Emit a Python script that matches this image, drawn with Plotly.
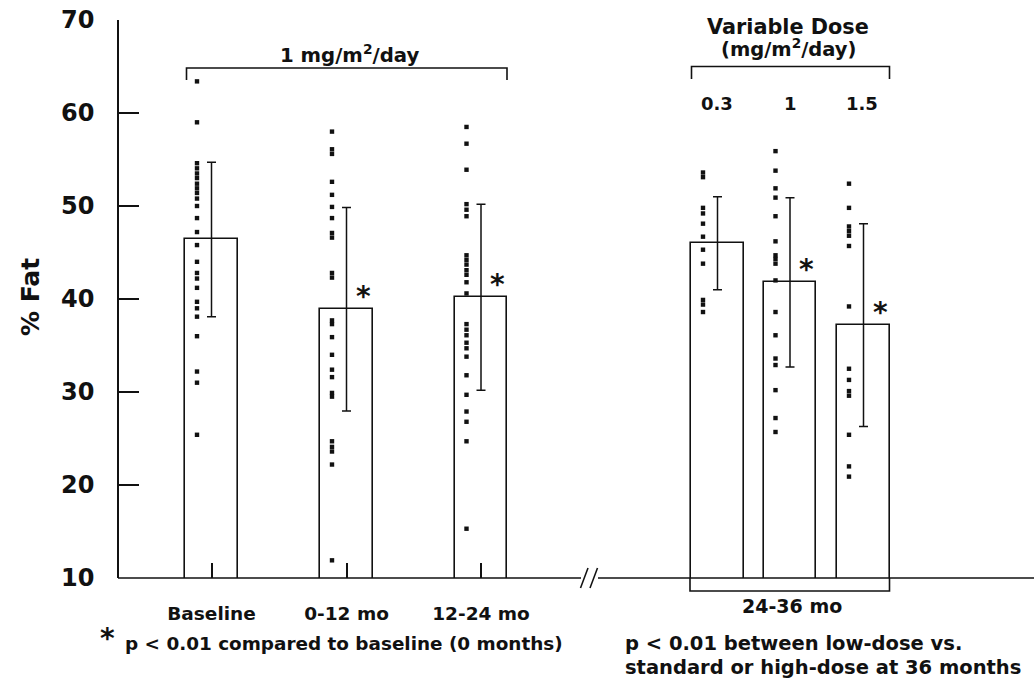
import plotly.graph_objects as go

# ---------------- data ----------------
categories = ["Baseline", "0-12 mo", "12-24 mo", "0.3", "1", "1.5"]
means = [46.4, 38.9, 40.2, 46.0, 41.8, 37.2]
sds = [8.3, 10.95, 10.0, 5.0, 9.1, 10.9]
significant = [False, True, True, False, True, True]

dots_baseline = [63.4, 59.0, 54.6, 54.05, 53.5, 53.0, 52.4, 51.9, 51.4, 50.8, 50.0,
                 48.7, 47.2, 45.8, 44.0, 42.8, 42.2, 41.2, 39.7, 39.0, 38.1, 36.0,
                 32.2, 31.0, 25.4]
dots_0_12 = [58.0, 56.1, 55.6, 52.6, 51.2, 49.9, 48.7, 47.1, 46.6, 42.8, 42.3, 37.7,
             37.3, 35.9, 34.0, 32.4, 31.6, 29.9, 29.5, 24.7, 24.1, 23.6, 22.2, 11.9]
dots_12_24 = [58.5, 56.7, 53.9, 50.2, 49.6, 48.9, 44.7, 44.2, 43.7, 43.1, 42.6, 41.8,
              40.6, 37.3, 36.7, 36.1, 35.3, 34.7, 33.8, 31.8, 29.7, 27.9, 26.8, 24.7, 15.3]
dots_dose_03 = [53.6, 53.1, 49.8, 49.2, 48.1, 46.7, 45.3, 43.8, 39.9, 39.4, 38.6]
dots_dose_1 = [55.9, 53.8, 51.9, 50.9, 48.9, 46.2, 44.7, 44.3, 43.8, 42.0, 38.6, 36.1,
               33.6, 32.9, 30.2, 27.2, 25.7]
dots_dose_15 = [52.4, 49.8, 47.8, 47.3, 46.8, 45.7, 39.2, 32.5, 31.3, 30.1, 29.6, 25.4,
                22.0, 20.9]
all_dots = [dots_baseline, dots_0_12, dots_12_24, dots_dose_03, dots_dose_1, dots_dose_15]

y_ticks = [10, 20, 30, 40, 50, 60, 70]

# ---------------- layout geometry ----------------
W, H = 1034, 685
PL, PR, PT, PB_MARGIN = 119, 0, 20, 107
X_RANGE = [119, 1034]        # x units follow page pixels
x_pos = [211.5, 346.5, 481, 717.5, 790, 863.5]   # category slot positions
BAR_W = 52.5
DOT_OFFSET = -14.5
STAR_OFFSET = 16.5

def xp(px):
    return (px - X_RANGE[0]) / (X_RANGE[1] - X_RANGE[0])

def yp(py):
    return (578 - py) / 558

BLACK = "#111111"
FONT = "DejaVu Sans, Verdana, sans-serif"

fig = go.Figure()

fig.add_trace(go.Bar(
    x=x_pos, y=means, width=BAR_W,
    marker=dict(color="white", line=dict(color=BLACK, width=1.6)),
    error_y=dict(type="data", array=sds, visible=True, color=BLACK,
                 thickness=1.5, width=4.5),
    hoverinfo="skip", showlegend=False,
))

for cx, vals in zip(x_pos, all_dots):
    fig.add_trace(go.Scatter(
        x=[cx + DOT_OFFSET] * len(vals), y=vals, mode="markers",
        marker=dict(symbol="square", size=4.4, color=BLACK),
        hoverinfo="skip", showlegend=False,
    ))

annotations = []
for cx, m, s in zip(x_pos, means, significant):
    if s:
        annotations.append(dict(x=cx + STAR_OFFSET, y=m, xref="x", yref="y",
                                text="*", showarrow=False, yanchor="middle",
                                yshift=13,
                                font=dict(size=28, family=FONT, color=BLACK, weight="bold")))

def txt(text, x, y, size, xanchor="center", yanchor="middle", **kw):
    annotations.append(dict(x=xp(x), y=yp(y), xref="paper", yref="paper", text=text,
                            showarrow=False, xanchor=xanchor, yanchor=yanchor,
                            font=dict(size=size, family=FONT, color=BLACK, weight="bold"), **kw))

txt("1 mg/m<sup>2</sup>/day", 349, 54, 19.7)
txt("Variable Dose", 788, 26.5, 20.8)
txt("(mg/m<sup>2</sup>/day)", 788, 47.5, 19.5)
dose_label_shift = {"0.3": -1, "1": 0, "1.5": -2}
for lab, cx in zip(categories[3:], x_pos[3:]):
    txt(lab, cx + dose_label_shift[lab], 104, 18)
txt("24-36 mo", 792, 606, 19)
txt("*", 107, 638, 28)
txt("p < 0.01 compared to baseline (0 months)", 123, 643, 18.4, xanchor="left")
txt("p < 0.01 between low-dose vs.", 623, 644, 19.5, xanchor="left")
txt("standard or high-dose at 36 months", 623, 667, 19.5, xanchor="left")
txt("% Fat", 30, 297, 25, textangle=-90)

line = dict(color=BLACK, width=1.6)
shapes = [
    dict(type="line", xref="paper", yref="paper", x0=xp(118), x1=xp(581), y0=0, y1=0, line=line),
    dict(type="line", xref="paper", yref="paper", x0=xp(598), x1=1.0, y0=0, y1=0, line=line),
    dict(type="line", xref="paper", yref="paper", x0=xp(580.5), x1=xp(588), y0=yp(588), y1=yp(568), line=line),
    dict(type="line", xref="paper", yref="paper", x0=xp(590), x1=xp(597.5), y0=yp(588), y1=yp(568), line=line),
    dict(type="path", xref="paper", yref="paper", line=line,
         path=f"M {xp(186.5)},{yp(80)} L {xp(186.5)},{yp(68)} L {xp(507)},{yp(68)} L {xp(507)},{yp(80)}"),
    dict(type="path", xref="paper", yref="paper", line=line,
         path=f"M {xp(691.5)},{yp(79)} L {xp(691.5)},{yp(66.5)} L {xp(889.5)},{yp(66.5)} L {xp(889.5)},{yp(79)}"),
    dict(type="path", xref="paper", yref="paper", line=line,
         path=f"M {xp(690)},{yp(578)} L {xp(690)},{yp(591)} L {xp(889.5)},{yp(591)} L {xp(889.5)},{yp(578)}"),
]

fig.update_layout(
    width=W, height=H,
    margin=dict(l=PL, r=PR, t=PT, b=PB_MARGIN, autoexpand=False),
    plot_bgcolor="white", paper_bgcolor="white",
    font=dict(family=FONT, color=BLACK, weight="bold"),
    annotations=annotations, shapes=shapes,
    bargap=0,
    xaxis=dict(range=X_RANGE, showgrid=False, zeroline=False, showline=False,
               automargin=False,
               tickmode="array", tickvals=x_pos[:3], ticktext=categories[:3],
               ticks="inside", ticklen=15, tickwidth=1.5, tickcolor=BLACK,
               ticklabelstandoff=22,
               tickfont=dict(size=18.5, family=FONT, color=BLACK, weight="bold")),
    yaxis=dict(range=[10, 70], showgrid=False, zeroline=False, automargin=False,
               showline=True, linecolor=BLACK, linewidth=1.6,
               tickmode="array", tickvals=y_ticks,
               ticks="inside", ticklen=20, tickwidth=1.5, tickcolor=BLACK,
               ticklabelstandoff=18, ticklabeloverflow="allow",
               tickfont=dict(size=24, family=FONT, color=BLACK, weight="bold")),
)

fig.write_html("out.html", config={"displayModeBar": False},
               post_script="document.body.style.margin='0';")
